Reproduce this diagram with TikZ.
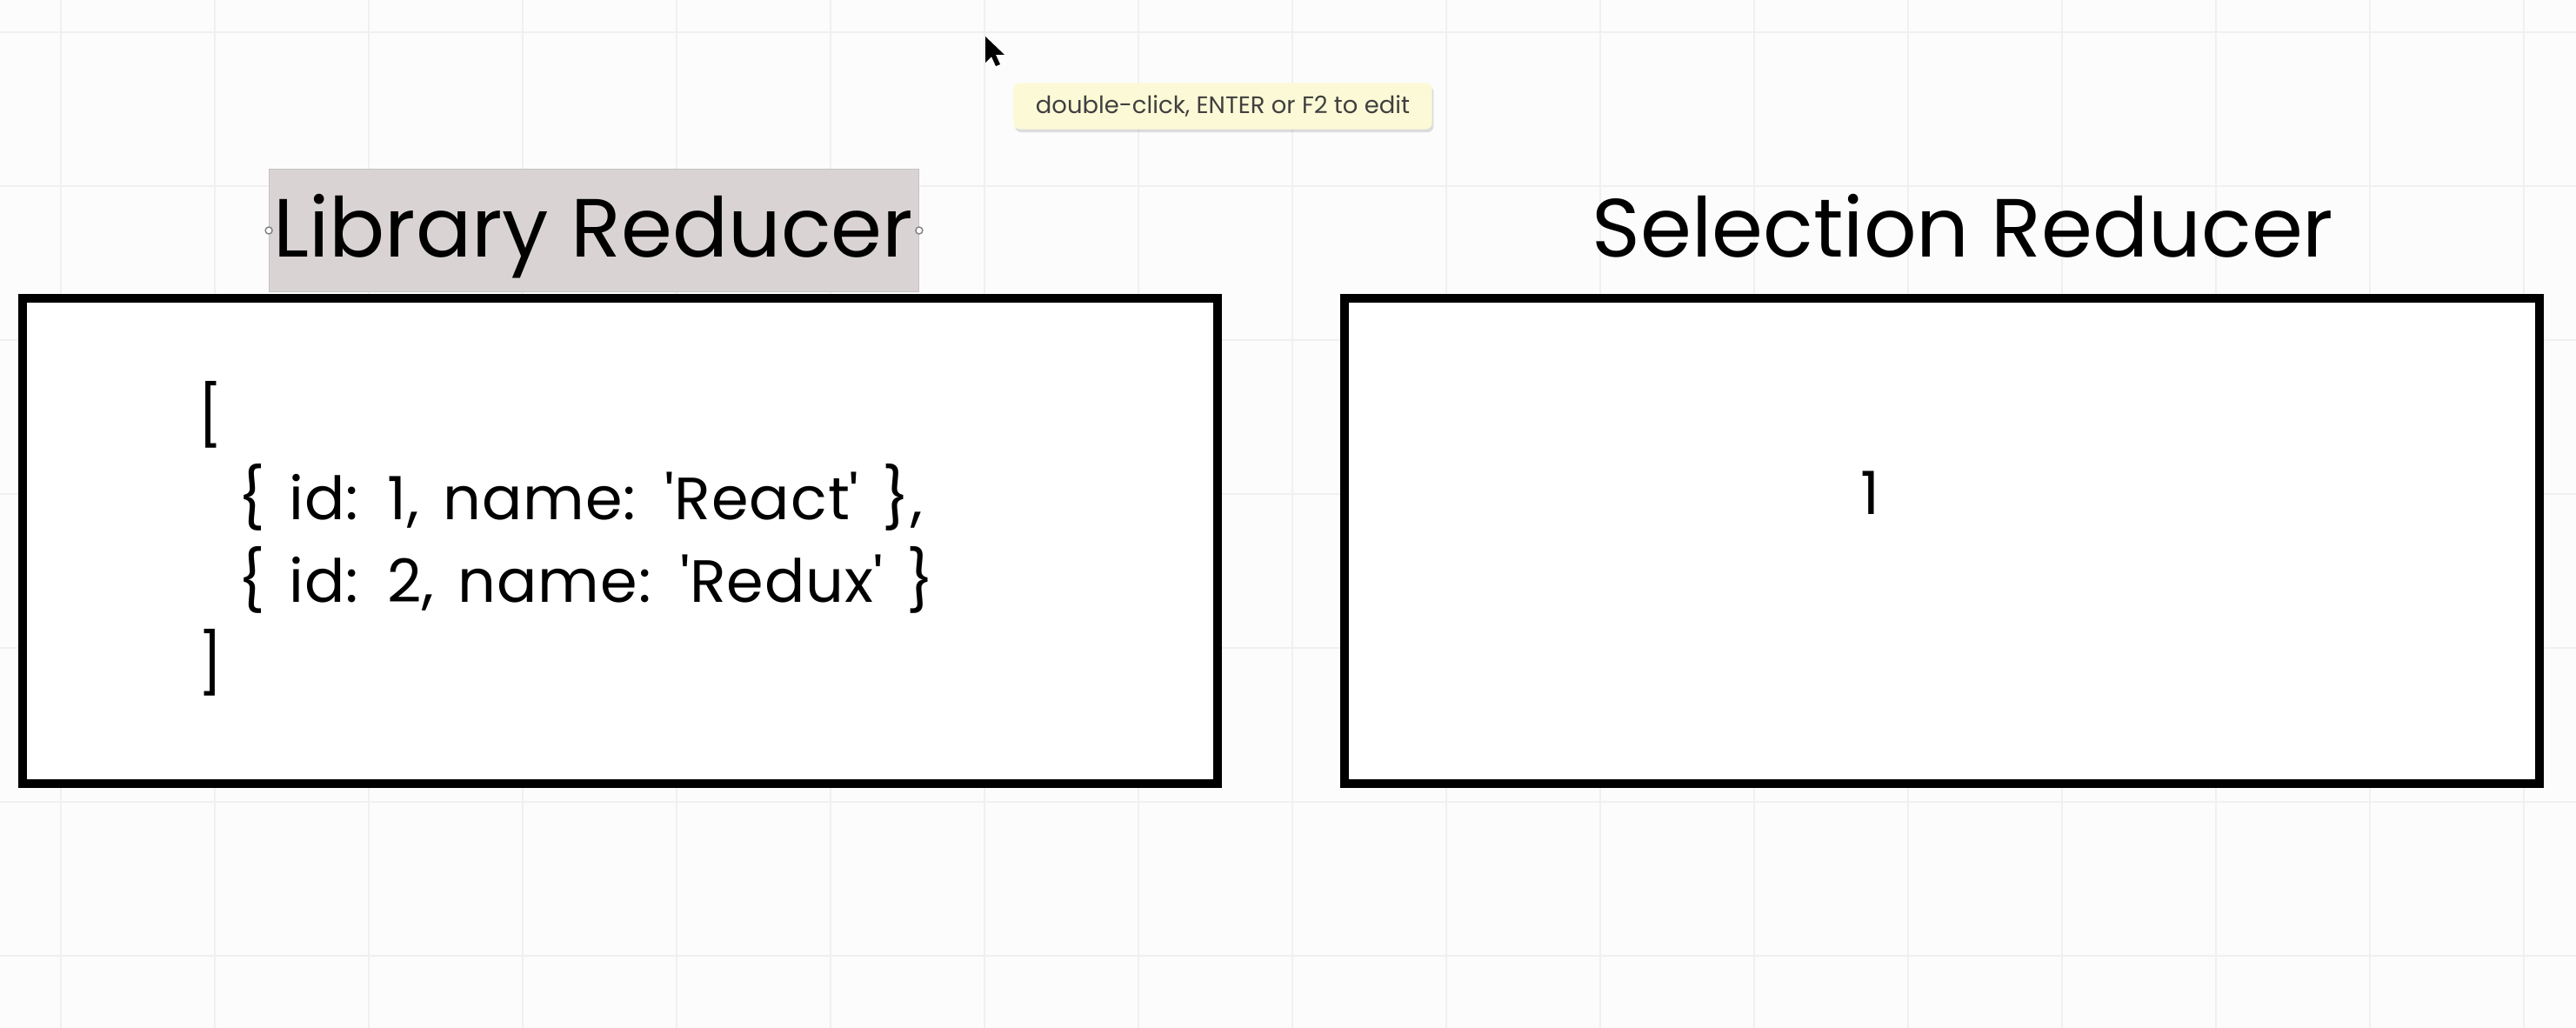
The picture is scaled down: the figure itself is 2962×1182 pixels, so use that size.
\documentclass[tikz,border=0pt]{standalone}
\usepackage{fontspec}
\setmainfont{Poppins}
\newfontfamily\codefont{Poppins}[LetterSpace=1.5, WordSpace=1.4]
\usetikzlibrary{shadows}
\definecolor{canvas}{RGB}{252,252,252}
\definecolor{gridcol}{RGB}{240,240,240}
\definecolor{selcol}{RGB}{217,211,211}
\definecolor{tipcol}{RGB}{252,250,214}
\begin{document}
\begin{tikzpicture}[x=0.01cm, y=-0.01cm,
	reducer/.style={draw, line width=2.8pt, fill=white, minimum width=13.74cm, minimum height=5.57cm},
	heading/.style={inner sep=0pt, anchor=base, font=\fontsize{27}{32}\selectfont},
	code/.style={inner sep=0pt, align=left, font=\codefont\fontsize{19.5}{27}\selectfont},
	handle/.style={circle, draw=gray, fill=white, inner sep=0pt, minimum size=0.08cm}]
			\fill [canvas] (0, 0) rectangle (2962, 1182);
			\useasboundingbox (0, 0) rectangle (2962, 1182);
			\foreach \x in {70, 247, ..., 2962} \draw [gridcol, line width=0.6pt] (\x, 0) -- (\x, 1182);
			\foreach \y in {37, 214, ..., 1182} \draw [gridcol, line width=0.6pt] (0, \y) -- (2962, \y);
			\draw (713, 622) node [reducer] (library) {};
			\draw (2233, 622) node [reducer] (selection) {};
			\draw (683, 265) node [fill=selcol, draw=selcol!80!gray, minimum width=7.46cm, minimum height=1.41cm] (libsel) {};
			\draw (682, 296) node [heading] (libtitle) {Library Reducer};
			\draw (2257, 296) node [heading] (seltitle) {Selection Reducer};
			\draw (libsel.west) node [handle] (h1) {};
			\draw (libsel.east) node [handle] (h2) {};
			\draw (227, 619) node [code, anchor=west] (libstate) {[\\\hspace*{13pt}\{ id: 1, name: \textquotesingle React\textquotesingle\ \},\\\hspace*{13pt}\{ id: 2, name: \textquotesingle Redux\textquotesingle\ \}\\]};
			\draw (2150, 567) node [code] (selstate) {1};
			\draw (1406, 122) node [fill=tipcol, rounded corners=2pt, drop shadow={opacity=0.25, shadow xshift=0.5pt, shadow yshift=-1pt}, minimum width=4.81cm, minimum height=0.53cm, inner sep=0pt, text=black!75, font=\fontsize{7.8}{9}\selectfont] (tip) {double-click, ENTER or F2 to edit};
			\fill [black] (1133, 42) -- ++(0, 30) -- ++(7, -7) -- ++(5, 11) -- ++(5, -2) -- ++(-5, -11) -- ++(10, 0) -- cycle;
		\end{tikzpicture}
\end{document}
